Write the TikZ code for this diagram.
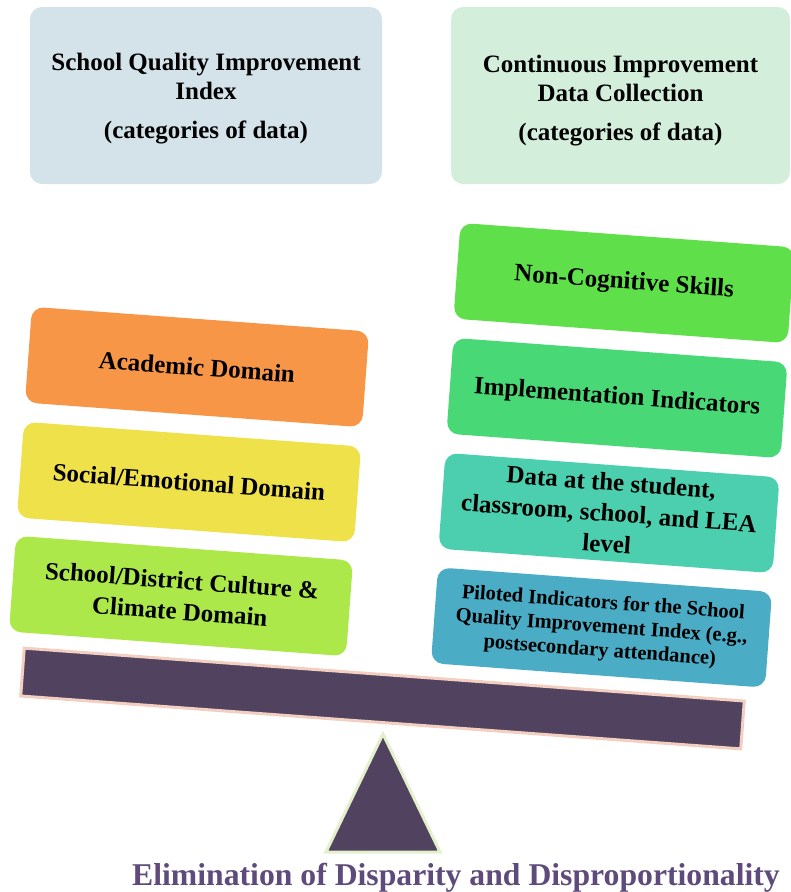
\documentclass[tikz,border=0pt]{standalone}
\usepackage{fontspec}
\setmainfont{Liberation Serif}
\usepackage{xcolor}
\usetikzlibrary{positioning}

\definecolor{sqiblue}{HTML}{D3E3E9}
\definecolor{cigreen}{HTML}{D4EEDC}
\definecolor{noncog}{HTML}{5FE04A}
\definecolor{implem}{HTML}{48D876}
\definecolor{datateal}{HTML}{4BCFAE}
\definecolor{pilotblue}{HTML}{4BACC6}
\definecolor{academic}{HTML}{F79646}
\definecolor{social}{HTML}{EFE14A}
\definecolor{climate}{HTML}{ACE84A}
\definecolor{beampurple}{HTML}{51435F}
\definecolor{beamedge}{HTML}{F2CFC0}
\definecolor{fulcrumedge}{HTML}{E2F0CB}
\definecolor{captionpurple}{HTML}{5F4B7B}

\tikzset{
    topbox/.style={rectangle, rounded corners=12pt, minimum width=352pt, minimum height=177pt,
        align=center, font=\fontsize{25}{29}\selectfont\bfseries},
    leftbox/.style={rectangle, rounded corners=12pt, minimum width=338pt, minimum height=96pt,
        inner sep=2pt, align=center, rotate=-4.2, font=\fontsize{25}{31}\selectfont\bfseries},
    rightbox/.style={leftbox, minimum width=335pt},
    beam/.style={rectangle, fill=beampurple, draw=beamedge, line width=3pt,
        minimum width=722pt, minimum height=48pt, inner sep=0pt, rotate=-4.2},
    fulcrum/.style={fill=beampurple, draw=fulcrumedge, line width=3pt, line join=miter},
    captiontext/.style={text=captionpurple, font=\fontsize{31.7}{36}\selectfont\bfseries}
}

\begin{document}
\begin{tikzpicture}[x=1pt, y=-1pt]
    \useasboundingbox (0,0) rectangle (791,892);

    % headings
    \node[topbox, fill=sqiblue] (sqi) at (206,95.5) {\rule{0pt}{24pt}School Quality Improvement\\ Index\\[10pt] (categories of data)};
    \node[topbox, fill=cigreen, minimum width=339pt] (ci) at (620.5,95.5) {\rule{0pt}{28pt}Continuous Improvement\\ Data Collection\\[10pt] (categories of data)};

    % left pan
    \node[leftbox, fill=academic] (academic) at (197,367) {Academic Domain};
    \node[leftbox, fill=social] (social) at (189,482) {Social/Emotional Domain};
    \node[leftbox, fill=climate] (climate) at (181,596) {School/District Culture \&\\ Climate Domain};

    % right pan
    \node[rightbox, fill=noncog] (noncog) at (624,283) {Non-Cognitive Skills};
    \node[rightbox, fill=implem] (implem) at (617,398) {Implementation Indicators};
    \node[rightbox, fill=datateal] (levels) at (609,513) {Data at the student,\\ classroom, school, and LEA\\ level};
    \node[rightbox, fill=pilotblue, font=\fontsize{20.5}{24}\selectfont\bfseries] (piloted) at (601.5,627.5)
        {Piloted Indicators for the School\\ Quality Improvement Index (e.g.,\\ postsecondary attendance)};

    % scale
    \node[beam] (beam) at (382.5,698.5) {};
    \coordinate (apex) at (383,734);
    \coordinate (baseL) at (326,852);
    \coordinate (baseR) at (440,852);
    \draw[fulcrum] (apex) -- (baseL) -- (baseR) -- cycle;

    \node[captiontext, anchor=base] (goal) at (456,885) {Elimination of Disparity and Disproportionality};
\end{tikzpicture}
\end{document}
